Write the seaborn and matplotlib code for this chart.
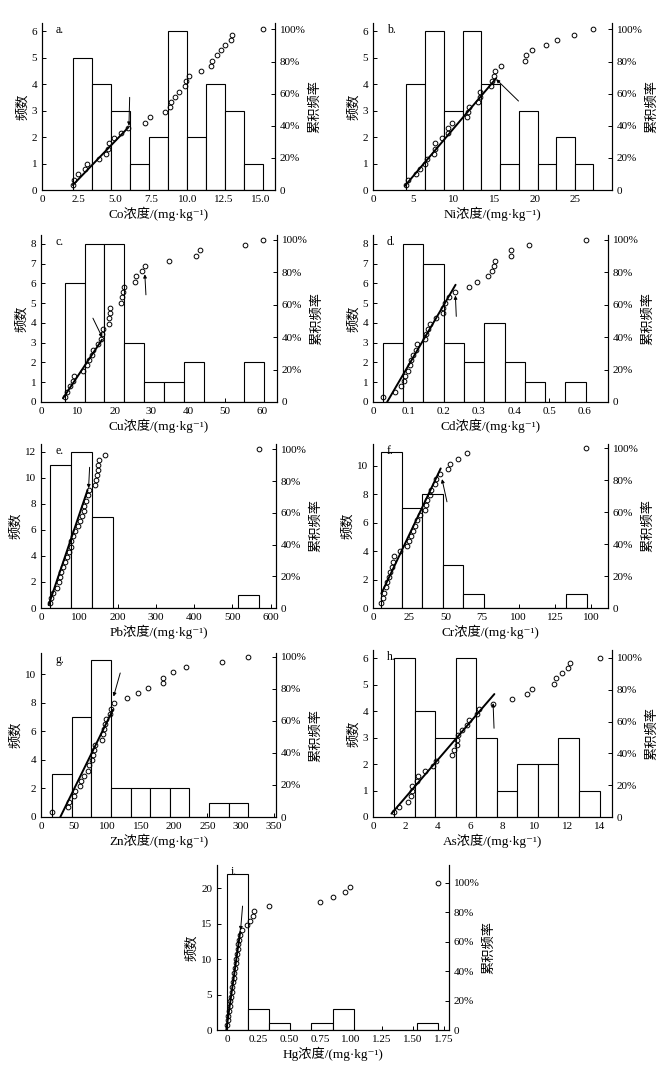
import matplotlib
matplotlib.use("Agg")
import matplotlib.pyplot as plt
import seaborn as sns

# ---- values ----
# sorted concentrations (31 samples), histogram bin edges/counts, fitted line, arrows

co_values = [2.12, 2.21, 2.44, 2.92, 3.12, 3.92, 4.40, 4.50, 4.62, 4.97, 5.40, 5.90, 7.09, 7.45, 8.48, 8.82,
             8.85, 9.16, 9.39, 9.85, 9.87, 10.08, 10.92, 11.60, 11.67, 11.99, 12.31, 12.60, 12.95, 13.06, 15.16]
co_edges = [2.12, 3.42, 4.72, 6.02, 7.32, 8.62, 9.94, 11.24, 12.54, 13.86, 15.16]
co_counts = [5, 4, 3, 1, 2, 6, 2, 4, 3, 1]
co_fit_x = [2.12, 5.93]
co_fit_y = [3.1, 39.0]
co_arrows = [((5.97, 40.0), (6.02, 57.7))]
co_xticks = [0, 2.5, 5, 7.5, 10, 12.5, 15]
co_xticklabels = ["0", "2.5", "5.0", "7.5", "10.0", "12.5", "15.0"]

ni_values = [4.10, 4.30, 5.34, 5.84, 6.45, 6.62, 7.57, 7.66, 7.66, 8.49, 9.31, 9.31, 9.73, 11.59, 11.75, 11.84,
             12.96, 13.20, 13.25, 14.53, 14.65, 14.98, 15.10, 15.81, 18.8, 18.9, 19.6, 21.3, 22.7, 24.8, 27.15]
ni_edges = [4.10, 6.42, 8.73, 11.05, 13.37, 15.69, 18.00, 20.32, 22.64, 24.92, 27.19]
ni_counts = [4, 6, 3, 6, 4, 1, 3, 1, 2, 1]
ni_fit_x = [3.93, 15.19]
ni_fit_y = [2.5, 69.5]
ni_arrows = [((15.2, 69.0), (17.96, 55.4))]
ni_xticks = [0, 5, 10, 15, 20, 25]
ni_xticklabels = ["0", "5", "10", "15", "20", "25"]

cu_values = [6.43, 6.97, 7.78, 8.69, 9.05, 11.4, 12.5, 13.1, 13.8, 14.1, 15.5, 16.3, 16.7, 16.8, 18.6, 18.6,
             18.8, 18.8, 21.7, 22.0, 22.4, 22.6, 25.4, 25.7, 27.4, 28.2, 34.7, 42.1, 43.3, 55.5, 60.4]
cu_edges = [6.43, 11.83, 17.23, 22.64, 28.04, 33.44, 38.84, 44.24, 49.65, 55.05, 60.45]
cu_counts = [6, 8, 8, 3, 1, 1, 2, 0, 0, 2]
cu_fit_x = [5.97, 16.56]
cu_fit_y = [2.3, 38.4]
cu_arrows = [((16.65, 39.8), (14.1, 51.7)), ((28.2, 78.8), (28.5, 66.1))]
cu_xticks = [0, 10, 20, 30, 40, 50, 60]
cu_xticklabels = ["0", "10", "20", "30", "40", "50", "60"]

cd_values = [0.028, 0.062, 0.078, 0.087, 0.090, 0.099, 0.104, 0.109, 0.113, 0.121, 0.125, 0.148, 0.149,
             0.156, 0.161, 0.178, 0.197, 0.198, 0.203, 0.215, 0.233, 0.272, 0.295, 0.326, 0.336, 0.342,
             0.347, 0.390, 0.392, 0.441, 0.603]
cd_edges = [0.028, 0.0855, 0.143, 0.2005, 0.258, 0.3155, 0.373, 0.4305, 0.488, 0.5455, 0.603]
cd_counts = [3, 8, 7, 3, 2, 4, 2, 1, 0, 1]
cd_fit_x = [0.040, 0.234]
cd_fit_y = [0.0, 72.3]
cd_arrows = [((0.2335, 65.7), (0.236, 52.8))]
cd_xticks = [0, 0.1, 0.2, 0.3, 0.4, 0.5, 0.6]
cd_xticklabels = ["0", "0.1", "0.2", "0.3", "0.4", "0.5", "0.6"]

pb_values = [22.6, 27, 32, 42, 46, 50, 53, 58, 64, 68, 74, 78.3, 78.3, 83.5, 88.7, 96.5, 100.9, 107,
             111.3, 111.3, 118.3, 121.7, 124.3, 140, 143.5, 146, 148, 148, 150.4, 166, 570.6]
pb_edges = [22.6, 77.4, 132.2, 187.0, 241.8, 296.6, 351.4, 406.2, 461.0, 515.8, 570.6]
pb_counts = [11, 12, 7, 0, 0, 0, 0, 0, 0, 1]
pb_fit_x = [20, 121.7]
pb_fit_y = [1.9, 74.4]
pb_arrows = [((124.3, 75.5), (127, 88.7))]
pb_xticks = [0, 100, 200, 300, 400, 500, 600]
pb_xticklabels = ["0", "100", "200", "300", "400", "500", "600"]

cr_values = [5.7, 6.9, 7.8, 9.2, 9.8, 11.0, 11.7, 13.1, 13.7, 14.4, 18.3, 23.6, 24.5, 25.9, 27.5, 28.6,
             30.2, 32.1, 35.5, 36.6, 37.3, 38.9, 40.1, 42.4, 43.5, 46.3, 51.5, 53.1, 58.2, 64.8, 146.6]
cr_edges = [5.7, 19.8, 33.9, 48.0, 62.1, 76.2, 90.3, 104.4, 118.5, 132.6, 146.7]
cr_counts = [11, 7, 8, 3, 1, 0, 0, 0, 0, 1]
cr_fit_x = [5.7, 46.5]
cr_fit_y = [9.0, 87.4]
cr_arrows = [((47.4, 80.7), (50.8, 66.5))]
cr_xticks = [0, 25, 50, 75, 100, 125, 150]
cr_xticklabels = ["0", "25", "50", "75", "100", "125", "100"]

zn_values = [16.5, 40.5, 41.5, 49, 51.5, 59, 60.5, 64, 70, 71.5, 76.5, 78, 79, 81.5, 91.5, 93, 95, 96.5,
             98, 103, 105, 109, 129, 145.5, 160.5, 183, 184, 199, 217.5, 272.5, 310.5]
zn_edges = [16.5, 46.0, 75.5, 105.0, 134.5, 164.0, 193.5, 223.0, 252.5, 282.0, 311.5]
zn_counts = [3, 7, 11, 2, 2, 2, 2, 0, 1, 1]
zn_fit_x = [29, 108]
zn_fit_y = [0.0, 67.0]
zn_arrows = [((109, 75.3), (119, 90.0))]
zn_xticks = [0, 50, 100, 150, 200, 250, 300, 350]
zn_xticklabels = ["0", "50", "100", "150", "200", "250", "300", "350"]

as_values = [1.30, 1.59, 2.17, 2.33, 2.40, 2.44, 2.73, 2.79, 3.20, 3.72, 3.88, 4.86, 5.00, 5.17, 5.20,
             5.27, 5.52, 5.83, 5.95, 6.43, 6.57, 7.44, 8.57, 9.50, 9.81, 11.20, 11.28, 11.71, 12.02, 12.17, 14.0]
as_edges = [1.30, 2.57, 3.84, 5.11, 6.38, 7.65, 8.92, 10.19, 11.46, 12.73, 14.00]
as_counts = [6, 4, 3, 6, 3, 1, 2, 2, 3, 1]
as_fit_x = [1.14, 7.5]
as_fit_y = [2.1, 77.3]
as_arrows = [((7.42, 71.6), (7.48, 55.8))]
as_xticks = [0, 2, 4, 6, 8, 10, 12, 14]
as_xticklabels = ["0", "2", "4", "6", "8", "10", "12", "14"]

hg_values = [0.0, 0.006, 0.011, 0.016, 0.021, 0.027, 0.032, 0.038, 0.043, 0.049, 0.054, 0.060, 0.065,
             0.070, 0.076, 0.081, 0.087, 0.093, 0.098, 0.104, 0.125, 0.161, 0.185, 0.214, 0.217, 0.343,
             0.75, 0.853, 0.952, 0.995, 1.702]
hg_edges = [0.0, 0.170, 0.340, 0.511, 0.681, 0.851, 1.021, 1.192, 1.362, 1.532, 1.702]
hg_counts = [22, 3, 1, 0, 1, 3, 0, 0, 0, 1]
hg_fit_x = [-0.005, 0.107]
hg_fit_y = [0.0, 66.6]
hg_arrows = [((0.11, 67.7), (0.126, 84.1))]
hg_xticks = [0, 0.25, 0.5, 0.75, 1.0, 1.25, 1.5, 1.75]
hg_xticklabels = ["0", "0.25", "0.50", "0.75", "1.00", "1.25", "1.50", "1.75"]

pct_ticks = [0, 20, 40, 60, 80, 100]
pct_ticklabels = ["0", "20%", "40%", "60%", "80%", "100%"]

# ---- style ----
sns.set_style("ticks")
plt.rcParams["font.family"] = ["Liberation Serif", "Noto Sans CJK SC", "DejaVu Serif"]
plt.rcParams.update({
    "axes.edgecolor": "black", "axes.linewidth": 0.8, "text.color": "black",
    "axes.labelcolor": "black", "xtick.color": "black", "ytick.color": "black",
    "xtick.direction": "in", "ytick.direction": "in",
    "xtick.major.size": 3, "ytick.major.size": 3,
    "xtick.major.width": 0.7, "ytick.major.width": 0.7,
    "xtick.labelsize": 8, "ytick.labelsize": 8, "axes.labelsize": 9.5,
    "axes.unicode_minus": False,
})

W, H = 665, 1065
fig = plt.figure(figsize=(W / 100, H / 100), dpi=100)


def px_rect(x0, y0, x1, y1):
    return [x0 / W, 1 - y1 / H, (x1 - x0) / W, (y1 - y0) / H]


def draw_panel(letter, elem, rect, values, edges, counts, fit_x, fit_y, arrows,
               xlim, xticks, xticklabels, ylim, yticks, ylim2):
    ax = fig.add_axes(px_rect(*rect))
    centers = [(a + b) / 2 for a, b in zip(edges[:-1], edges[1:])]
    sns.histplot(x=centers, weights=counts, bins=edges, ax=ax, color="white",
                 edgecolor="black", linewidth=0.8, alpha=1)
    ax.set_xlim(*xlim)
    ax.set_ylim(*ylim)
    ax.set_xticks(xticks)
    ax.set_xticklabels(xticklabels)
    ax.set_yticks(yticks)
    ax.set_xlabel(elem + "浓度/(mg·kg⁻¹)", labelpad=2)
    ax.set_ylabel("频数", labelpad=2)
    ax.spines["top"].set_visible(False)

    ax2 = ax.twinx()
    sns.ecdfplot(x=values, stat="percent", ax=ax2, color="black", marker="o", linestyle="none",
                 markersize=3.4, markerfacecolor="none", markeredgecolor="black", markeredgewidth=0.7)
    sns.lineplot(x=fit_x, y=fit_y, ax=ax2, color="black", linewidth=1.4)
    for tip, tail in arrows:
        ax2.annotate("", xy=tip, xytext=tail,
                     arrowprops=dict(arrowstyle="-|>", color="black", lw=0.7,
                                     mutation_scale=5, shrinkA=0, shrinkB=0))
    ax2.set_xlim(*xlim)
    ax2.set_ylim(*ylim2)
    ax2.set_yticks(pct_ticks)
    ax2.set_yticklabels(pct_ticklabels)
    ax2.set_ylabel("累积频率", labelpad=2)
    ax2.spines["top"].set_visible(False)
    ax.text(0.06, 0.995, letter + ".", transform=ax.transAxes, va="top", ha="left", fontsize=8.5)


draw_panel("a", "Co", (42, 23, 275, 190), co_values, co_edges, co_counts, co_fit_x, co_fit_y, co_arrows,
           (0, 16.0), co_xticks, co_xticklabels, (0, 6.31), range(0, 7), (0, 104))
draw_panel("b", "Ni", (373, 23, 612, 190), ni_values, ni_edges, ni_counts, ni_fit_x, ni_fit_y, ni_arrows,
           (0, 29.5), ni_xticks, ni_xticklabels, (0, 6.31), range(0, 7), (0, 104))
draw_panel("c", "Cu", (41, 235, 277, 402), cu_values, cu_edges, cu_counts, cu_fit_x, cu_fit_y, cu_arrows,
           (0, 64.1), cu_xticks, cu_xticklabels, (0, 8.45), range(0, 9), (0, 103))
draw_panel("d", "Cd", (373, 235, 608, 402), cd_values, cd_edges, cd_counts, cd_fit_x, cd_fit_y, cd_arrows,
           (0, 0.666), cd_xticks, cd_xticklabels, (0, 8.45), range(0, 9), (0, 103))
draw_panel("e", "Pb", (41, 444, 276, 608), pb_values, pb_edges, pb_counts, pb_fit_x, pb_fit_y, pb_arrows,
           (0, 614), pb_xticks, pb_xticklabels, (0, 12.59), range(0, 13, 2), (0, 103.4))
draw_panel("f", "Cr", (373, 444, 608, 608), cr_values, cr_edges, cr_counts, cr_fit_x, cr_fit_y, cr_arrows,
           (0, 161.4), cr_xticks, cr_xticklabels, (0, 11.53), range(0, 11, 2), (0, 102.7))
draw_panel("g", "Zn", (41, 653, 276, 817), zn_values, zn_edges, zn_counts, zn_fit_x, zn_fit_y, zn_arrows,
           (0, 353), zn_xticks, zn_xticklabels, (0, 11.47), range(0, 11, 2), (0, 102.5))
draw_panel("h", "As", (373, 650, 612, 817), as_values, as_edges, as_counts, as_fit_x, as_fit_y, as_arrows,
           (0, 14.77), as_xticks, as_xticklabels, (0, 6.31), range(0, 7), (0, 105))
draw_panel("i", "Hg", (217, 865, 449, 1030), hg_values, hg_edges, hg_counts, hg_fit_x, hg_fit_y, hg_arrows,
           (-0.08, 1.79), hg_xticks, hg_xticklabels, (0, 23.3), range(0, 21, 5), (0, 112))

fig.savefig("out.png", dpi=100, facecolor="white")
